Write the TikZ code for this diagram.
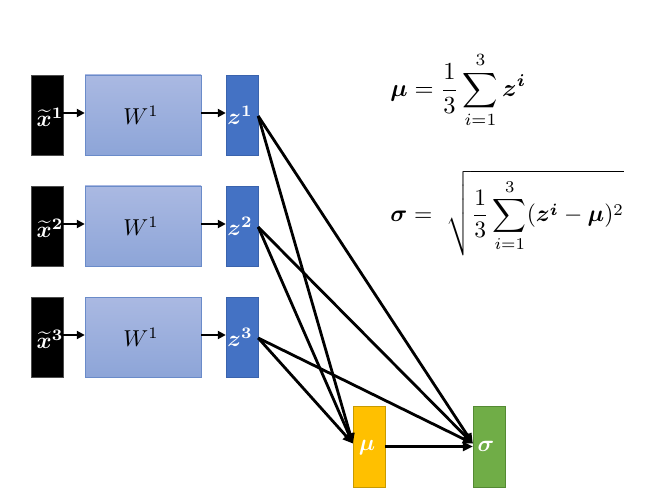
\documentclass[tikz,border=0pt]{standalone}
\usepackage{amsmath}
\usepackage{bm}
\usetikzlibrary{arrows.meta}
\definecolor{wtop}{HTML}{AAB9E2}
\definecolor{wbot}{HTML}{8DA5D8}
\definecolor{wborder}{HTML}{6A8BC9}
\definecolor{zblue}{HTML}{4472C4}
\definecolor{zborder}{HTML}{3A63AD}
\definecolor{muyel}{HTML}{FFC000}
\definecolor{muborder}{HTML}{C89A00}
\definecolor{sggreen}{HTML}{70AD47}
\definecolor{sgborder}{HTML}{548A33}
\tikzset{
  xbox/.style={draw=black!70, fill=black, minimum width=32pt, minimum height=80pt, inner sep=0pt, text=white},
  wbox/.style={draw=wborder, top color=wtop, bottom color=wbot, minimum width=116pt, minimum height=80pt, inner sep=0pt},
  zbox/.style={draw=zborder, fill=zblue, minimum width=32pt, minimum height=80pt, inner sep=0pt, text=white},
  mubox/.style={draw=muborder, fill=muyel, minimum width=32pt, minimum height=81pt, inner sep=0pt, text=white},
  sgbox/.style={draw=sgborder, fill=sggreen, minimum width=32pt, minimum height=81pt, inner sep=0pt, text=white},
  arr/.style={line width=2.6pt, -{Triangle[length=8pt,width=8pt]}},
  conn/.style={line width=2.8pt, -{Triangle[length=10pt,width=9pt]}},
  lbl/.style={scale=2.3, inner sep=0pt},
  frm/.style={scale=2.45, inner sep=0pt, anchor=west},
}
\begin{document}
\begin{tikzpicture}[x=1pt,y=-1pt]
\useasboundingbox (0,0) rectangle (662,500);
\foreach \i/\y in {1/115,2/226,3/337}{
  \node[xbox] (x\i) at (47,\y) {};
  \node[lbl, text=white] (xl\i) at (50,\y+2) {$\widetilde{\bm{x}}^{\bm{\i}}$};
  \node[wbox] (w\i) at (143,\y) {};
  \node[lbl] (wl\i) at (141,\y) {$W^1$};
  \node[zbox] (z\i) at (242,\y) {};
  \node[lbl, text=white] (zl\i) at (240,\y) {$\bm{z}^{\bm{\i}}$};
  \draw[arr] ([yshift=2pt]x\i.east) -- ([yshift=2pt]w\i.west);
  \draw[arr] ([yshift=2pt]w\i.east) -- ([yshift=2pt]z\i.west);
}
\node[mubox] (mu) at (369,446.5) {};
\node[lbl, text=white] (mul) at (367,448) {$\bm{\mu}$};
\node[sgbox] (sg) at (489,446.5) {};
\node[lbl, text=white] (sgl) at (486,446) {$\bm{\sigma}$};
\foreach \i in {1,2,3}{
  \draw[conn] ([yshift=-1pt]z\i.east) -- ([yshift=3pt]mu.west);
  \draw[conn] ([yshift=-1pt]z\i.east) -- ([yshift=3pt]sg.west);
}
\draw[conn] (mu.east) -- ([yshift=0pt]sg.west);
\node[frm] (fmu) at (390,90) {$\displaystyle \bm{\mu} = \frac{1}{3}\sum_{i=1}^{3}\bm{z}^{\bm{i}}$};
\node[frm, scale=0.96] (fsg) at (390,213) {$\displaystyle \bm{\sigma} =\ \sqrt{\frac{1}{3}\sum_{i=1}^{3}(\bm{z}^{\bm{i}}-\bm{\mu})^2}$};
\end{tikzpicture}
\end{document}
